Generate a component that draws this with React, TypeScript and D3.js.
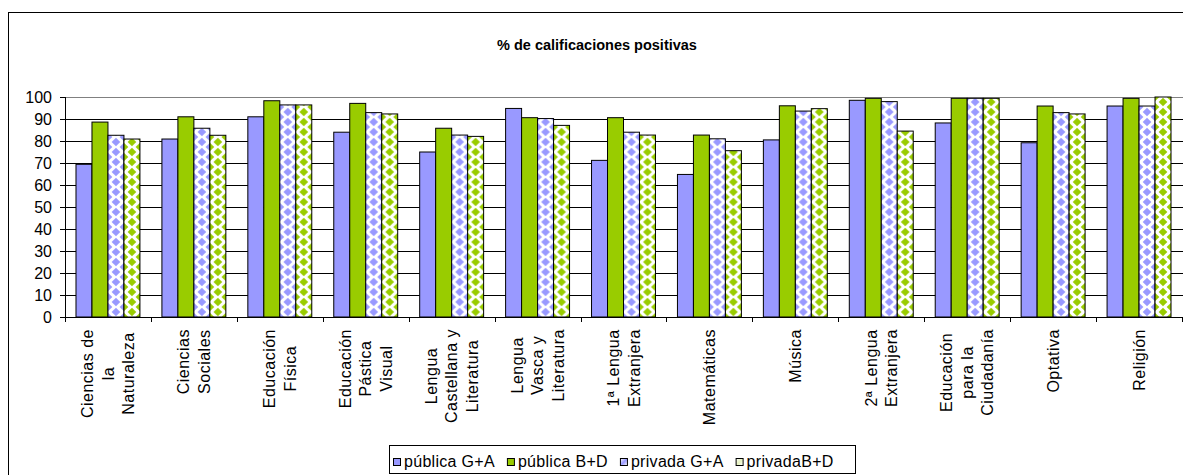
import React from "react";
import * as d3 from "d3";

const categories: string[][] = [
  ["Ciencias de", "la", "Naturaleza"],
  ["Ciencias", "Sociales"],
  ["Educación", "Física"],
  ["Educación", "Pástica", "Visual"],
  ["Lengua", "Castellana y", "Literatura"],
  ["Lengua", "Vasca y", "Literatura"],
  ["1ª Lengua", "Extranjera"],
  ["Matemáticas"],
  ["Música"],
  ["2ª Lengua", "Extranjera"],
  ["Educación", "para la", "Ciudadanía"],
  ["Optativa"],
  ["Religión"],
];

const seriesNames = ["pública G+A", "pública B+D", "privada G+A", "privadaB+D"];

const publicaGA = [69.4, 80.9, 91, 84, 75, 94.8, 71.2, 64.8, 80.5, 98.5, 88.2, 79.2, 95.9];
const publicaBD = [88.6, 91, 98.3, 97.1, 85.8, 90.6, 90.6, 82.7, 96, 99.4, 99.4, 95.9, 99.4];
const privadaGA = [82.6, 85.8, 96.4, 92.9, 82.7, 90.2, 84, 81, 93.6, 97.9, 99.4, 92.9, 95.9];
const privadaBD = [80.9, 82.6, 96.4, 92.3, 82.1, 87.1, 82.7, 75.6, 94.7, 84.5, 99.4, 92.3, 100];

const yTicks = [0, 10, 20, 30, 40, 50, 60, 70, 80, 90, 100];

const PURPLE = "#9999FF";
const GREEN = "#99CC00";

const FONT = "'Liberation Sans', Arial, sans-serif";

function measure(text: string, size: number, spacing: number): number {
  if (typeof document === "undefined") return text.length * size * 0.55;
  const c = document.createElement("canvas");
  const ctx = c.getContext("2d");
  if (!ctx) return text.length * size * 0.55;
  ctx.font = `${size}px 'Liberation Sans', Arial, sans-serif`;
  return ctx.measureText(text).width + spacing * text.length;
}

export default function App() {
  const W = 1183;
  const H = 475;
  const left = 65;
  const right = 1182;
  const top = 97;
  const bottom = 317;

  const series = [publicaGA, publicaBD, privadaGA, privadaBD];
  const x0 = d3
    .scaleBand<number>()
    .domain(d3.range(categories.length))
    .range([left, right])
    .paddingInner(0)
    .paddingOuter(0);
  const step = x0.bandwidth();
  const barW = step / (4 + 1.375);
  const groupPad = (step - 4 * barW) / 2;
  const y = d3.scaleLinear().domain([0, 100]).range([bottom, top]);

  const labelSize = 16;
  const labelSpacing = 0.5;
  const lineGap = 20.5;
  const labelTop = 329;

  const bars: { s: number; i: number; x: number; y: number; h: number }[] = [];
  series.forEach((vals, s) => {
    vals.forEach((v, i) => {
      const bx = (x0(i) as number) + groupPad + s * barW;
      bars.push({ s, i, x: bx, y: y(v), h: bottom - y(v) });
    });
  });

  const patH = 10;

  // legend layout
  const legSize = 16;
  const legSpacing = 0.3;
  const sq = 7;
  const sqGap = 4;
  const itemGap = 12;
  const legendX: number[] = [];
  let cur = 393;
  seriesNames.forEach((n) => {
    legendX.push(cur);
    cur += sq + sqGap + measure(n, legSize, legSpacing) + itemGap;
  });

  return (
    <svg
      width={W}
      height={H}
      style={{ position: "absolute", left: 0, top: 0, background: "#fff" }}
      fontFamily={FONT}
    >
      <defs>
        {bars
          .filter((b) => b.s >= 2)
          .map((b) => (
            <pattern
              key={`p${b.s}-${b.i}`}
              id={`p${b.s}-${b.i}`}
              patternUnits="userSpaceOnUse"
              x={b.x}
              y={bottom}
              width={barW}
              height={patH}
            >
              <rect width={barW} height={patH} fill="#fff" />
              {[
                [barW / 2, patH / 2],
                [0, 0],
                [barW, 0],
                [0, patH],
                [barW, patH],
              ].map(([cx, cy], k) => (
                <path
                  key={k}
                  d={`M${cx - 4.3},${cy}L${cx},${cy - 4.3}L${cx + 4.3},${cy}L${cx},${cy + 4.3}Z`}
                  fill={b.s === 2 ? PURPLE : GREEN}
                />
              ))}
            </pattern>
          ))}
        <linearGradient id="lg2" x1="0" y1="0" x2="1" y2="1">
          <stop offset="0" stopColor="#fff" />
          <stop offset="0.5" stopColor={PURPLE} />
          <stop offset="1" stopColor="#fff" />
        </linearGradient>
        <linearGradient id="lg3" x1="0" y1="0" x2="1" y2="1">
          <stop offset="0" stopColor="#fff" />
          <stop offset="0.5" stopColor="#e6f2bf" />
          <stop offset="1" stopColor="#fff" />
        </linearGradient>
      </defs>

      <rect x={8.5} y={12.5} width={1200} height={500} fill="#fff" stroke="#000" strokeWidth={1} />

      <text x={597} y={50} textAnchor="middle" fontSize={14.5} fontWeight="bold">
        % de calificaciones positivas
      </text>

      {/* gridlines */}
      {yTicks.map((t) => (
        <line
          key={`g${t}`}
          x1={left}
          x2={right + 1}
          y1={Math.round(y(t)) + 0.5}
          y2={Math.round(y(t)) + 0.5}
          stroke={t === 100 ? "#808080" : "#000"}
          strokeWidth={1}
        />
      ))}

      {/* bars */}
      {bars.map((b) => (
        <rect
          key={`b${b.s}-${b.i}`}
          x={b.x}
          y={b.y}
          width={barW}
          height={b.h}
          fill={b.s === 0 ? PURPLE : b.s === 1 ? GREEN : `url(#p${b.s}-${b.i})`}
          stroke="#000"
          strokeWidth={1}
        />
      ))}

      {/* y axis */}
      <line x1={left + 0.5} x2={left + 0.5} y1={top} y2={bottom + 0.5} stroke="#000" />
      {yTicks.map((t) => (
        <g key={`yt${t}`}>
          <line
            x1={left - 5}
            x2={left}
            y1={Math.round(y(t)) + 0.5}
            y2={Math.round(y(t)) + 0.5}
            stroke="#000"
          />
          <text x={52} y={y(t)} dy="0.36em" textAnchor="end" fontSize={16}>
            {t}
          </text>
        </g>
      ))}

      {/* x axis */}
      <line x1={left} x2={right + 1} y1={bottom + 0.5} y2={bottom + 0.5} stroke="#000" />
      {d3.range(categories.length + 1).map((i) => {
        const xx = Math.round(left + i * step) + 0.5;
        return <line key={`xt${i}`} x1={xx} x2={xx} y1={bottom} y2={bottom + 5} stroke="#000" />;
      })}

      {categories.map((lines, i) => {
        const cx = (x0(i) as number) + step / 2;
        const maxW = Math.max(...lines.map((l) => measure(l, labelSize, labelSpacing)));
        const cy = labelTop + maxW / 2;
        const n = lines.length;
        return (
          <g key={`cl${i}`}>
            {lines.map((l, k) => {
              const lx = cx + (k - (n - 1) / 2) * lineGap;
              return (
                <text
                  key={k}
                  transform={`translate(${lx},${cy}) rotate(-90)`}
                  textAnchor="middle"
                  dy="0.36em"
                  fontSize={labelSize}
                  letterSpacing={labelSpacing}
                >
                  {l}
                </text>
              );
            })}
          </g>
        );
      })}

      {/* legend */}
      <rect x={389.5} y={445.5} width={466} height={28} fill="#fff" stroke="#000" />
      {seriesNames.map((name, s) => (
        <g key={`lg${s}`}>
          <rect
            x={legendX[s] + 0.5}
            y={458.5}
            width={sq}
            height={sq}
            fill={s === 0 ? PURPLE : s === 1 ? GREEN : s === 2 ? "url(#lg2)" : "url(#lg3)"}
            stroke="#000"
          />
          <text
            x={legendX[s] + sq + sqGap}
            y={467}
            fontSize={legSize}
            letterSpacing={legSpacing}
          >
            {name}
          </text>
        </g>
      ))}
    </svg>
  );
}
